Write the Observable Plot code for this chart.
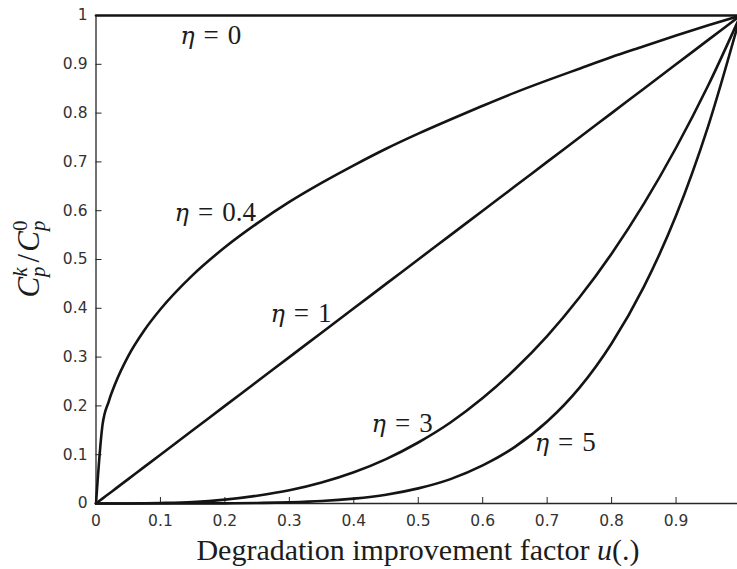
<!DOCTYPE html>
<html><head><meta charset="utf-8">
<script src="https://cdn.jsdelivr.net/npm/d3@7"></script>
<script src="https://cdn.jsdelivr.net/npm/@observablehq/plot@0.6"></script>
<style>
body{margin:0;background:#fff} svg{display:block}
</style>
</head><body><div id="chart"></div>
<script>
// degradation improvement factor u
const u     = [0, 0.01, 0.02, 0.03, 0.05, 0.075, 0.1, 0.15, 0.2, 0.25, 0.3, 0.35, 0.4, 0.45, 0.5, 0.55, 0.6, 0.65, 0.7, 0.75, 0.8, 0.85, 0.9, 0.95, 1];
// C_p^k / C_p^0
const eta0  = [1, 1, 1, 1, 1, 1, 1, 1, 1, 1, 1, 1, 1, 1, 1, 1, 1, 1, 1, 1, 1, 1, 1, 1, 1];
const eta04 = [0, 0.16, 0.21, 0.246, 0.302, 0.355, 0.398, 0.468, 0.525, 0.574, 0.618, 0.657, 0.693, 0.727, 0.758, 0.787, 0.815, 0.842, 0.867, 0.891, 0.915, 0.937, 0.959, 0.98, 1];
const eta1  = [0, 0.01, 0.02, 0.03, 0.05, 0.075, 0.1, 0.15, 0.2, 0.25, 0.3, 0.35, 0.4, 0.45, 0.5, 0.55, 0.6, 0.65, 0.7, 0.75, 0.8, 0.85, 0.9, 0.95, 1];
const eta3  = [0, 0, 0, 0, 0.0001, 0.0004, 0.001, 0.003, 0.008, 0.016, 0.027, 0.043, 0.064, 0.091, 0.125, 0.166, 0.216, 0.275, 0.343, 0.422, 0.512, 0.614, 0.729, 0.857, 1];
const eta5  = [0, 0, 0, 0, 0, 0, 0, 0.0001, 0.0003, 0.001, 0.0024, 0.005, 0.01, 0.018, 0.031, 0.05, 0.078, 0.116, 0.168, 0.237, 0.328, 0.444, 0.59, 0.774, 1];

const seriesNames = ["η = 0", "η = 0.4", "η = 1", "η = 3", "η = 5"];
const seriesValues = [eta0, eta04, eta1, eta3, eta5];

// curve labels (text, anchor in data units)
const labelText = ["η\u2004=\u20040", "η\u2004=\u20040.4", "η\u2004=\u20041", "η\u2004=\u20043", "η\u2004=\u20045"];
const labelU = [0.178, 0.185, 0.318, 0.475, 0.728];
const labelV = [0.959, 0.596, 0.389, 0.164, 0.125];

const xTicks = [0, 0.1, 0.2, 0.3, 0.4, 0.5, 0.6, 0.7, 0.8, 0.9];
const yTicks = [0, 0.1, 0.2, 0.3, 0.4, 0.5, 0.6, 0.7, 0.8, 0.9, 1];
const xTickLabels = ["0", "0.1", "0.2", "0.3", "0.4", "0.5", "0.6", "0.7", "0.8", "0.9"];
const yTickLabels = ["0", "0.1", "0.2", "0.3", "0.4", "0.5", "0.6", "0.7", "0.8", "0.9", "1"];

const rows = seriesNames.flatMap((name, s) => u.map((x, i) => ({u: x, v: seriesValues[s][i], name})));
const labels = labelText.map((t, i) => ({t, u: labelU[i], v: labelV[i]}));
const xTickRows = xTicks.map((v, i) => ({v, t: xTickLabels[i]}));
const yTickRows = yTicks.map((v, i) => ({v, t: yTickLabels[i]}));

const serif = "'Liberation Serif', 'Times New Roman', serif";
const sans = "'DejaVu Sans', sans-serif";
const greek = "'DejaVu Serif', serif";
const ink = "#262626";

const svg = Plot.plot({
  width: 737, height: 569,
  marginLeft: 95.5, marginRight: 0, marginTop: 15, marginBottom: 66,
  x: {domain: [0, 1], range: [95.5, 740]},
  y: {domain: [0, 1]},
  style: {background: "#fff", color: ink, fontFamily: sans, overflow: "visible"},
  marks: [
    Plot.axisX({ticks: xTicks, tickFormat: () => "", tickSize: -6, label: null}),
    Plot.axisY({ticks: yTicks, tickFormat: () => "", tickSize: -6, label: null}),
    Plot.text(xTickRows, {x: "v", y: () => 0, text: "t", dy: 18, fontSize: 15.5, fontFamily: sans, fill: "#333"}),
    Plot.text(yTickRows, {x: () => 0, y: "v", text: "t", dx: -8.5, textAnchor: "end", fontSize: 15.5, fontFamily: sans, fill: "#333"}),
    Plot.ruleX([0], {stroke: ink, strokeWidth: 1.3}),
    Plot.ruleY([0], {stroke: ink, strokeWidth: 1.3}),
    Plot.line(rows, {x: "u", y: "v", z: "name", stroke: "#141414", strokeWidth: 2.6, curve: "monotone-x"}),
    Plot.text(labels, {x: "u", y: "v", text: "t", fontSize: 27, fontFamily: serif, fill: "#1c1c1c"})
  ]
});

const root = d3.select(svg);
// italic eta in curve labels
root.selectAll("text").each(function() {
  const s = this.textContent;
  if (s.charAt(0) !== "η") return;
  const t = d3.select(this);
  t.text(null);
  t.append("tspan").attr("font-style", "italic").attr("font-family", greek).attr("font-size", 24).text(s.slice(0, 1));
  t.append("tspan").text(s.slice(1));
});

// x-axis title
const xt = root.append("text")
  .attr("x", 418).attr("y", 560)
  .attr("text-anchor", "middle")
  .attr("font-family", serif).attr("font-size", 30).attr("fill", "#1c1c1c");
xt.append("tspan").text("Degradation improvement factor ");
xt.append("tspan").attr("font-style", "italic").text("u");
xt.append("tspan").text("(.)");

// y-axis title: C_p^k / C_p^0
const yt = root.append("text")
  .attr("transform", "translate(39,259) rotate(-90)")
  .attr("text-anchor", "middle")
  .attr("font-family", serif).attr("font-size", 31).attr("fill", "#1c1c1c");
yt.append("tspan").attr("font-style", "italic").text("C");
yt.append("tspan").attr("font-style", "italic").attr("font-size", 21).attr("dy", -12).text("k");
yt.append("tspan").attr("font-style", "italic").attr("font-size", 21).attr("dx", -9.5).attr("dy", 18).text("p");
yt.append("tspan").attr("dx", 4).attr("dy", -6).text("/");
yt.append("tspan").attr("font-style", "italic").attr("dx", 2).text("C");
yt.append("tspan").attr("font-size", 21).attr("dy", -12).text("0");
yt.append("tspan").attr("font-style", "italic").attr("font-size", 21).attr("dx", -10.5).attr("dy", 18).text("p");

document.getElementById("chart").appendChild(svg);
</script>
</body></html>
